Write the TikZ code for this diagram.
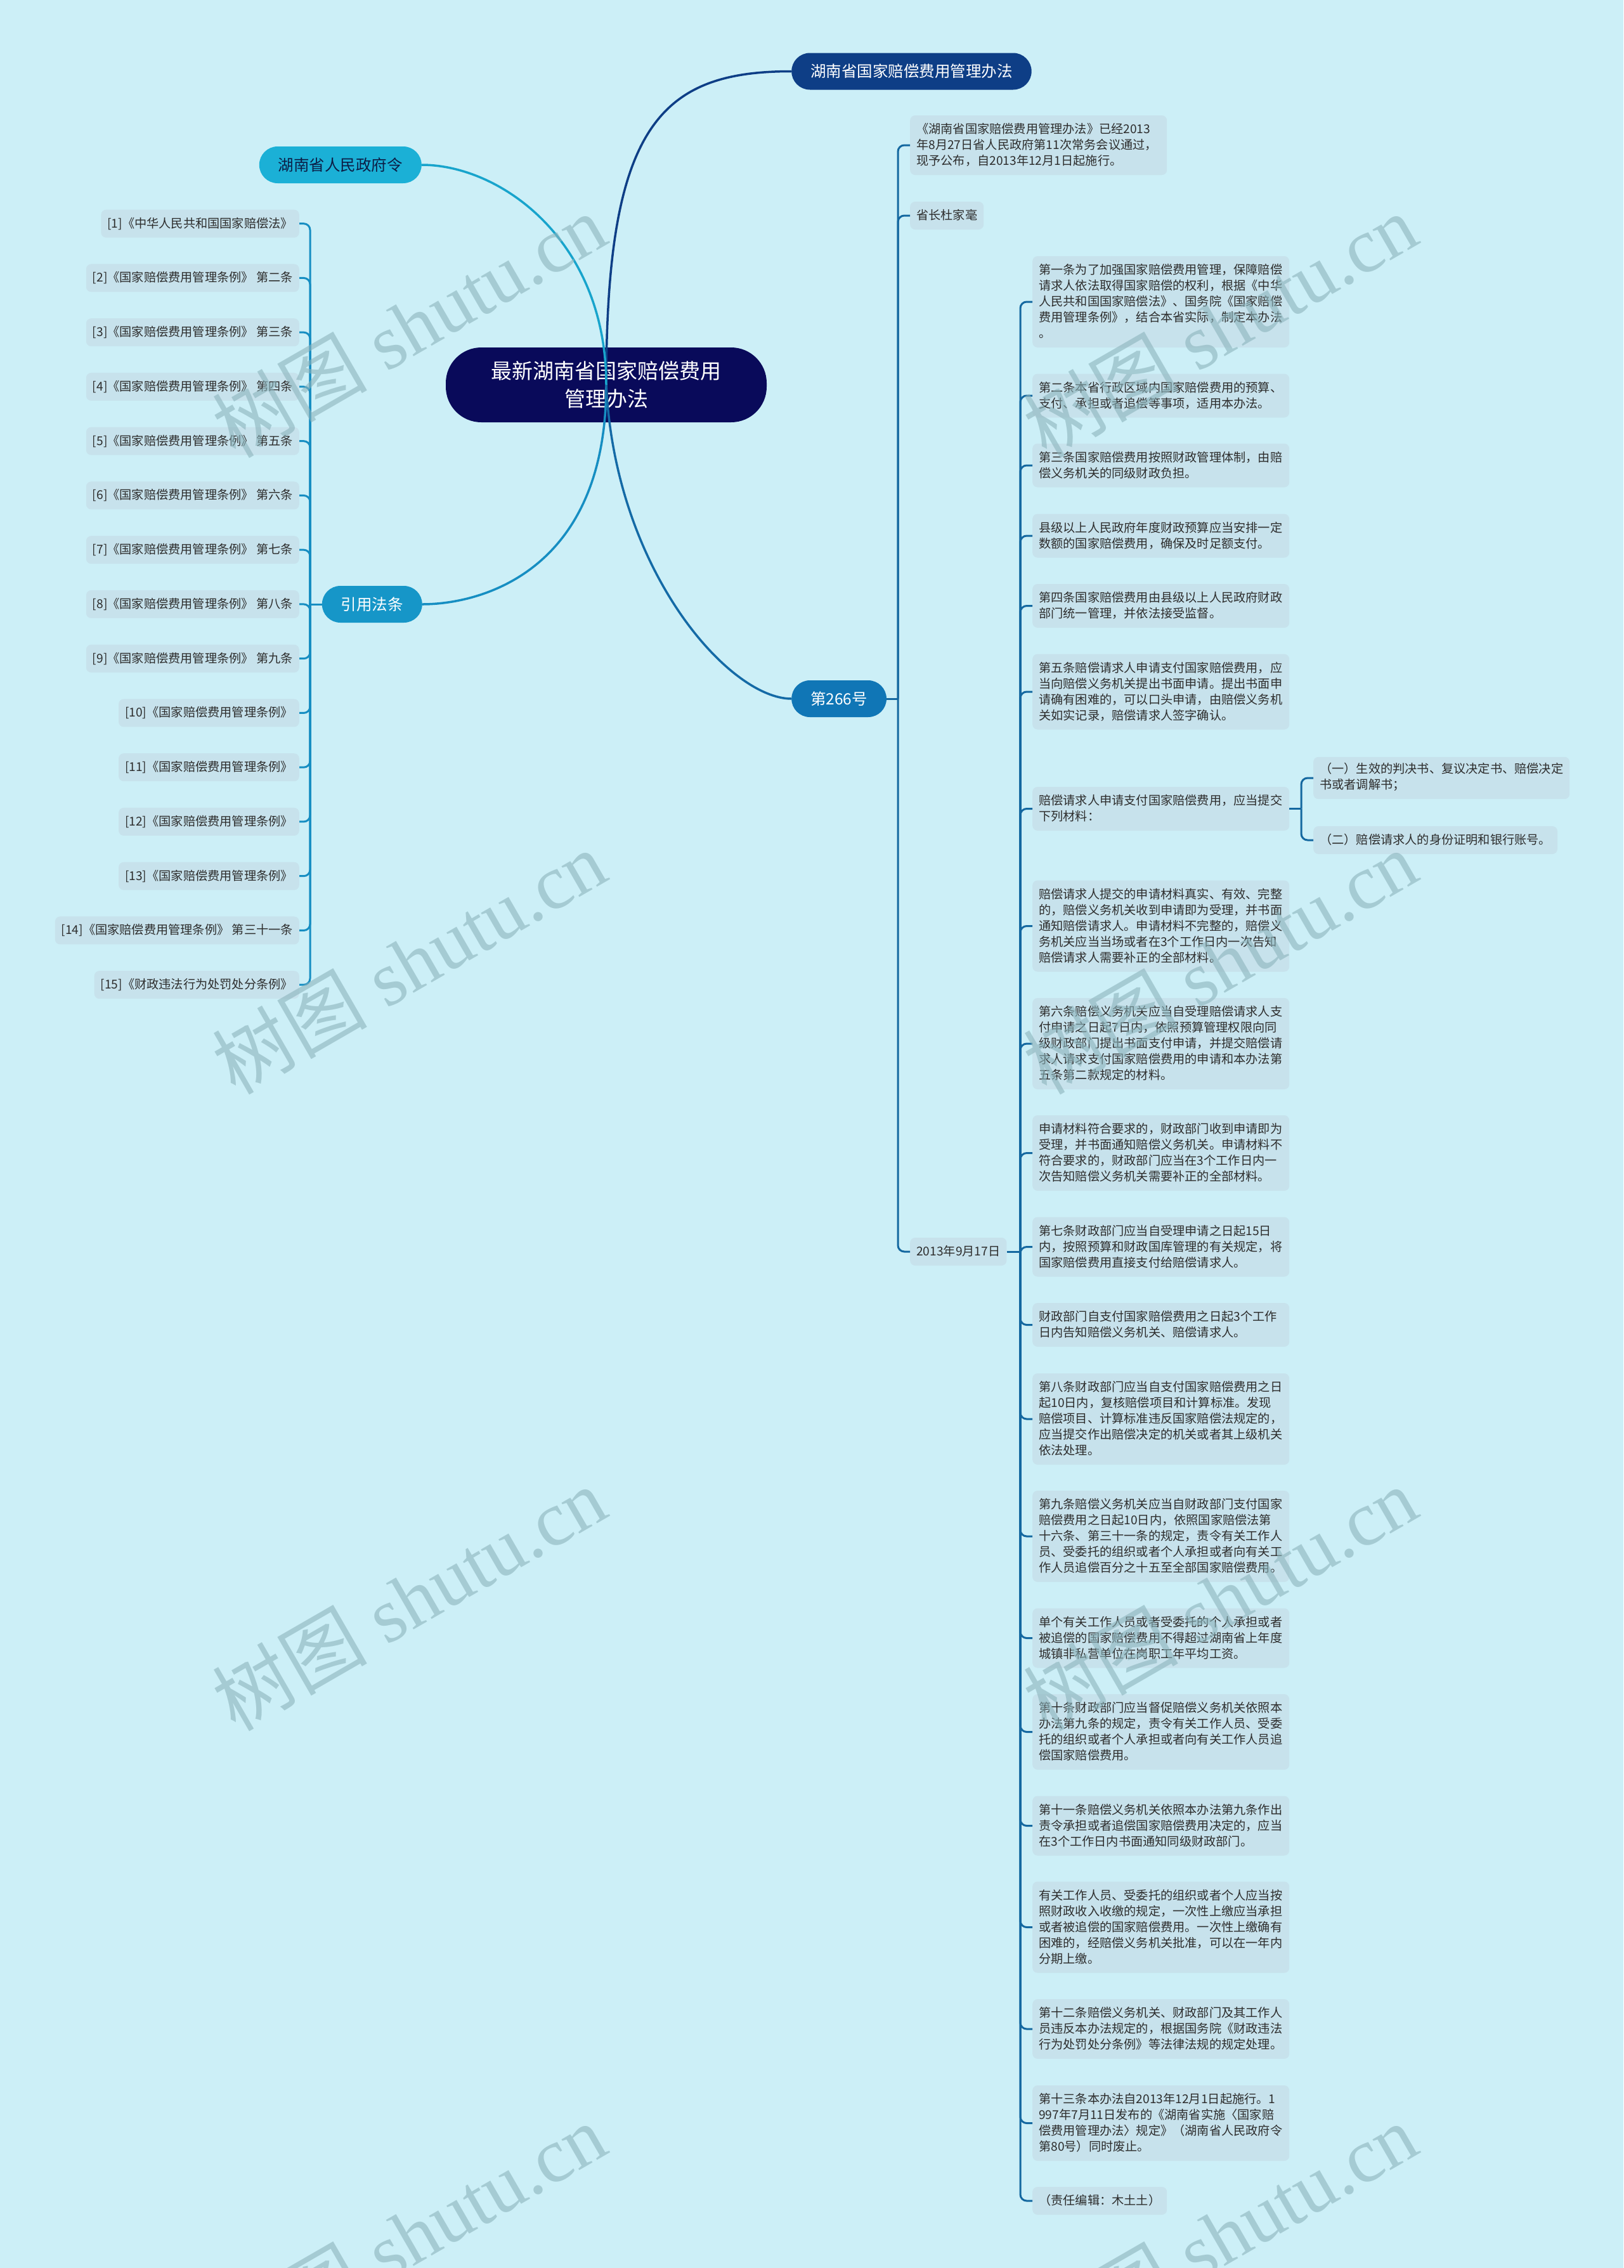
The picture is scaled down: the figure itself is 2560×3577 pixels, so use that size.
\documentclass[tikz,border=0pt]{standalone}
\usepackage{fontspec}
\setmainfont{Noto Sans CJK SC}
\newfontfamily\wmlatin{Liberation Serif}
\definecolor{bgc}{RGB}{204,239,247}
\definecolor{leaffill}{RGB}{199,226,236}
\definecolor{leaftext}{RGB}{45,45,45}
\definecolor{rootfill}{RGB}{9,10,90}
\definecolor{lawfill}{RGB}{14,62,134}
\definecolor{govfill}{RGB}{27,176,214}
\definecolor{govtext}{RGB}{12,30,70}
\definecolor{govline}{RGB}{24,164,204}
\definecolor{reffill}{RGB}{22,150,200}
\definecolor{refline}{RGB}{22,142,194}
\definecolor{nfill}{RGB}{16,118,182}
\definecolor{nline}{RGB}{20,106,166}
\definecolor{subline}{RGB}{20,104,160}
\definecolor{wmcol}{RGB}{140,180,188}
\begin{document}
\begin{tikzpicture}[x=1pt,y=-1pt,
  leaf/.style={fill=leaffill, rounded corners=8pt, text=leaftext,
    font=\fontsize{19.2}{25}\selectfont, inner xsep=10pt, inner ysep=9.5pt,
    align=left, execute at begin node={\rule{0pt}{19pt}},
    execute at end node={\rule[-6pt]{0pt}{0pt}}},
  art/.style={leaf, anchor=west, text width=385pt},
  refitem/.style={leaf, anchor=east},
  lone/.style={rounded corners=29pt, minimum height=58pt, inner xsep=30pt,
    inner ysep=0pt, font=\fontsize{24.5}{30}\selectfont},
  rootbox/.style={fill=rootfill, text=white, rounded corners=56pt,
    minimum width=506pt, minimum height=118pt, align=center,
    font=\fontsize{33}{44}\selectfont},
  mainline/.style={line width=3.5pt},
  subc/.style={line width=3pt, draw=subline, rounded corners=10pt},
  refc/.style={line width=3pt, draw=refline, rounded corners=10pt},
  wm/.style={rotate=30, text=wmcol, opacity=0.6, font=\fontsize{122}{124}\selectfont}
]
\useasboundingbox (0,0) rectangle (2560,3577);
\fill[bgc] (0,0) rectangle (2560,3577);

% root and first level
\node[rootbox] (root) at (956,607) {最新湖南省国家赔偿费用\\管理办法};
\node[lone, fill=lawfill, text=white, anchor=west] (law) at (1248,112.5) {湖南省国家赔偿费用管理办法};
\node[lone, fill=govfill, text=govtext, anchor=east] (gov) at (665,260) {湖南省人民政府令};
\node[lone, fill=reffill, text=white, anchor=east] (ref) at (666,953) {引用法条};
\node[lone, fill=nfill, text=white, anchor=west] (n266) at (1248,1102) {第266号};

% children of 第266号
\node[art] (p1) at (1435,229) {《湖南省国家赔偿费用管理办法》已经2013\\年8月27日省人民政府第11次常务会议通过，\\现予公布，自2013年12月1日起施行。};
\node[leaf, anchor=west] (p2) at (1435,340) {省长杜家毫};
\node[leaf, anchor=west] (p3) at (1435,1974) {2013年9月17日};

% articles
\node[art] (a1) at (1628,476) {第一条为了加强国家赔偿费用管理，保障赔偿\\请求人依法取得国家赔偿的权利，根据《中华\\人民共和国国家赔偿法》、国务院《国家赔偿\\费用管理条例》，结合本省实际，制定本办法\\。};
\node[art] (a2) at (1628,624) {第二条本省行政区域内国家赔偿费用的预算、\\支付、承担或者追偿等事项，适用本办法。};
\node[art] (a3) at (1628,734) {第三条国家赔偿费用按照财政管理体制，由赔\\偿义务机关的同级财政负担。};
\node[art] (a4) at (1628,845) {县级以上人民政府年度财政预算应当安排一定\\数额的国家赔偿费用，确保及时足额支付。};
\node[art] (a5) at (1628,955.5) {第四条国家赔偿费用由县级以上人民政府财政\\部门统一管理，并依法接受监督。};
\node[art] (a6) at (1628,1091) {第五条赔偿请求人申请支付国家赔偿费用，应\\当向赔偿义务机关提出书面申请。提出书面申\\请确有困难的，可以口头申请，由赔偿义务机\\关如实记录，赔偿请求人签字确认。};
\node[art] (a7) at (1628,1275.5) {赔偿请求人申请支付国家赔偿费用，应当提交\\下列材料：};
\node[leaf, anchor=west] (b1) at (2071,1227) {（一）生效的判决书、复议决定书、赔偿决定\\书或者调解书；};
\node[leaf, anchor=west] (b2) at (2071,1325) {（二）赔偿请求人的身份证明和银行账号。};
\node[art] (a8) at (1628,1460.5) {赔偿请求人提交的申请材料真实、有效、完整\\的，赔偿义务机关收到申请即为受理，并书面\\通知赔偿请求人。申请材料不完整的，赔偿义\\务机关应当当场或者在3个工作日内一次告知\\赔偿请求人需要补正的全部材料。};
\node[art] (a9) at (1628,1646) {第六条赔偿义务机关应当自受理赔偿请求人支\\付申请之日起7日内，依照预算管理权限向同\\级财政部门提出书面支付申请，并提交赔偿请\\求人请求支付国家赔偿费用的申请和本办法第\\五条第二款规定的材料。};
\node[art] (a10) at (1628,1818.5) {申请材料符合要求的，财政部门收到申请即为\\受理，并书面通知赔偿义务机关。申请材料不\\符合要求的，财政部门应当在3个工作日内一\\次告知赔偿义务机关需要补正的全部材料。};
\node[art] (a11) at (1628,1966.5) {第七条财政部门应当自受理申请之日起15日\\内，按照预算和财政国库管理的有关规定，将\\国家赔偿费用直接支付给赔偿请求人。};
\node[art] (a12) at (1628,2089.5) {财政部门自支付国家赔偿费用之日起3个工作\\日内告知赔偿义务机关、赔偿请求人。};
\node[art] (a13) at (1628,2238) {第八条财政部门应当自支付国家赔偿费用之日\\起10日内，复核赔偿项目和计算标准。发现\\赔偿项目、计算标准违反国家赔偿法规定的，\\应当提交作出赔偿决定的机关或者其上级机关\\依法处理。};
\node[art] (a14) at (1628,2423) {第九条赔偿义务机关应当自财政部门支付国家\\赔偿费用之日起10日内，依照国家赔偿法第\\十六条、第三十一条的规定，责令有关工作人\\员、受委托的组织或者个人承担或者向有关工\\作人员追偿百分之十五至全部国家赔偿费用。};
\node[art] (a15) at (1628,2583.5) {单个有关工作人员或者受委托的个人承担或者\\被追偿的国家赔偿费用不得超过湖南省上年度\\城镇非私营单位在岗职工年平均工资。};
\node[art] (a16) at (1628,2731.5) {第十条财政部门应当督促赔偿义务机关依照本\\办法第九条的规定，责令有关工作人员、受委\\托的组织或者个人承担或者向有关工作人员追\\偿国家赔偿费用。};
\node[art] (a17) at (1628,2879.5) {第十一条赔偿义务机关依照本办法第九条作出\\责令承担或者追偿国家赔偿费用决定的，应当\\在3个工作日内书面通知同级财政部门。};
\node[art] (a18) at (1628,3039.5) {有关工作人员、受委托的组织或者个人应当按\\照财政收入收缴的规定，一次性上缴应当承担\\或者被追偿的国家赔偿费用。一次性上缴确有\\困难的，经赔偿义务机关批准，可以在一年内\\分期上缴。};
\node[art] (a19) at (1628,3200) {第十二条赔偿义务机关、财政部门及其工作人\\员违反本办法规定的，根据国务院《财政违法\\行为处罚处分条例》等法律法规的规定处理。};
\node[art] (a20) at (1628,3348.5) {第十三条本办法自2013年12月1日起施行。1\\997年7月11日发布的《湖南省实施〈国家赔\\偿费用管理办法〉规定》（湖南省人民政府令\\第80号）同时废止。};
\node[leaf, anchor=west] (a21) at (1628,3471) {（责任编辑：木土土）};

% cited laws (left)
\node[refitem] (r1) at (472,352.7) {[1]《中华人民共和国国家赔偿法》};
\node[refitem] (r2) at (472,438.45) {[2]《国家赔偿费用管理条例》 第二条};
\node[refitem] (r3) at (472,524.2) {[3]《国家赔偿费用管理条例》 第三条};
\node[refitem] (r4) at (472,609.95) {[4]《国家赔偿费用管理条例》 第四条};
\node[refitem] (r5) at (472,695.7) {[5]《国家赔偿费用管理条例》 第五条};
\node[refitem] (r6) at (472,781.45) {[6]《国家赔偿费用管理条例》 第六条};
\node[refitem] (r7) at (472,867.2) {[7]《国家赔偿费用管理条例》 第七条};
\node[refitem] (r8) at (472,952.95) {[8]《国家赔偿费用管理条例》 第八条};
\node[refitem] (r9) at (472,1038.7) {[9]《国家赔偿费用管理条例》 第九条};
\node[refitem] (r10) at (472,1124.45) {[10]《国家赔偿费用管理条例》};
\node[refitem] (r11) at (472,1210.2) {[11]《国家赔偿费用管理条例》};
\node[refitem] (r12) at (472,1295.95) {[12]《国家赔偿费用管理条例》};
\node[refitem] (r13) at (472,1381.7) {[13]《国家赔偿费用管理条例》};
\node[refitem] (r14) at (472,1467.45) {[14]《国家赔偿费用管理条例》 第三十一条};
\node[refitem] (r15) at (472,1553.2) {[15]《财政违法行为处罚处分条例》};

% main connectors from the root
\draw[mainline, draw=lawfill] (root.center) .. controls (956,200) and (1040,112.5) .. (law.west);
\draw[mainline, draw=govline] (root.center) .. controls (956,380) and (790,260) .. (gov.east);
\draw[mainline, draw=refline] (root.center) .. controls (956,900) and (760,953) .. (ref.east);
\draw[mainline, draw=nline] (root.center) .. controls (970,900) and (1150,1102) .. (n266.west);

% 第266号 children
\coordinate (j266) at (1416,1102);
\draw[line width=3pt, draw=subline] (n266.east) -- (j266);
\foreach \c in {p1,p2,p3} \draw[subc] (j266) |- (\c.west);

% 2013年9月17日 children
\coordinate (j13) at (1609,1974);
\draw[line width=3pt, draw=subline] (p3.east) -- (j13);
\foreach \c in {a1,a2,a3,a4,a5,a6,a7,a8,a9,a10,a11,a12,a13,a14,a15,a16,a17,a18,a19,a20,a21}
  \draw[subc] (j13) |- (\c.west);

% 下列材料 children
\coordinate (j7) at (2052,1275.5);
\draw[line width=3pt, draw=subline] (a7.east) -- (j7);
\draw[subc] (j7) |- (b1.west);
\draw[subc] (j7) |- (b2.west);

% cited law connectors
\coordinate (jref) at (489,953);
\draw[line width=3pt, draw=refline] (ref.west) -- (jref);
\foreach \i in {1,...,15} \draw[refc] (jref) |- (r\i.east);

% watermarks
\foreach \wx/\wy [count=\k] in {645/513,1924/513,645/1517,1924/1517,645/2521,1924/2521,645/3525,1924/3525}
  \node[wm] (wm\k) at (\wx,\wy) {树图\hspace{0.25em}{\wmlatin shutu.cn}};
\end{tikzpicture}
\end{document}
